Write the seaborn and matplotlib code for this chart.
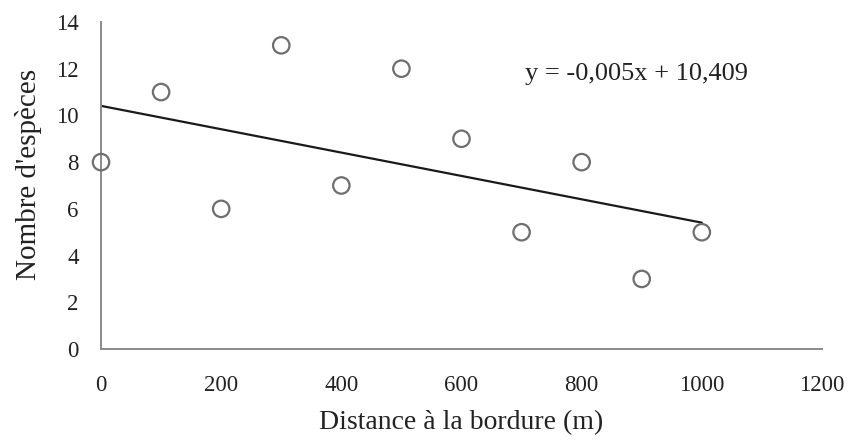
import numpy as np
import pandas as pd
import matplotlib
matplotlib.use("Agg")
import matplotlib.pyplot as plt
import seaborn as sns

# Data
distance = [0, 100, 200, 300, 400, 500, 600, 700, 800, 900, 1000]
especes = [8, 11, 6, 13, 7, 12, 9, 5, 8, 3, 5]
x_ticks = [0, 200, 400, 600, 800, 1000, 1200]
y_ticks = [0, 2, 4, 6, 8, 10, 12, 14]

df = pd.DataFrame({"distance": distance, "especes": especes})

sns.set_style("white")
plt.rcParams['font.family'] = ['Liberation Serif', 'DejaVu Serif']

fig = plt.figure(figsize=(8.54, 4.45), dpi=100)
ax = fig.add_axes([0.1183, 0.2157, 0.8442, 0.7349])

# Linear trend line (least squares) over the data range
slope, intercept = np.polyfit(df["distance"], df["especes"], 1)
x_line = np.array([df["distance"].min(), df["distance"].max()])
ax.plot(x_line, slope * x_line + intercept, color="#1a1a1a", lw=1.6, zorder=2)

sns.scatterplot(data=df, x="distance", y="especes", ax=ax, s=140,
                facecolor="none", edgecolor="#6e6e6e", linewidth=1.6,
                clip_on=False, zorder=3)

ax.text(0.588, 0.84, "y = -0,005x + 10,409", transform=ax.transAxes,
        fontsize=19, color="#222222", va="center")

ax.set_xlim(0, 1200)
ax.set_ylim(0, 14)
ax.set_xticks(x_ticks)
ax.set_yticks(y_ticks)
ax.tick_params(axis="both", direction="out", length=4, width=1.2,
               color="#8a8a8a", labelsize=16.5, labelcolor="#222222")
ax.tick_params(axis="x", pad=15)
ax.tick_params(axis="y", pad=12)
for side in ["top", "right"]:
    ax.spines[side].set_visible(False)
for side in ["left", "bottom"]:
    ax.spines[side].set_color("#8a8a8a")
    ax.spines[side].set_linewidth(1.4)

ax.set_xlabel("Distance à la bordure (m)", fontsize=20, color="#222222", labelpad=10)
ax.set_ylabel("Nombre d'espèces", fontsize=21, color="#222222", labelpad=10)
ax.yaxis.label.set_y(0.535)

fig.savefig("out.png", dpi=100)
